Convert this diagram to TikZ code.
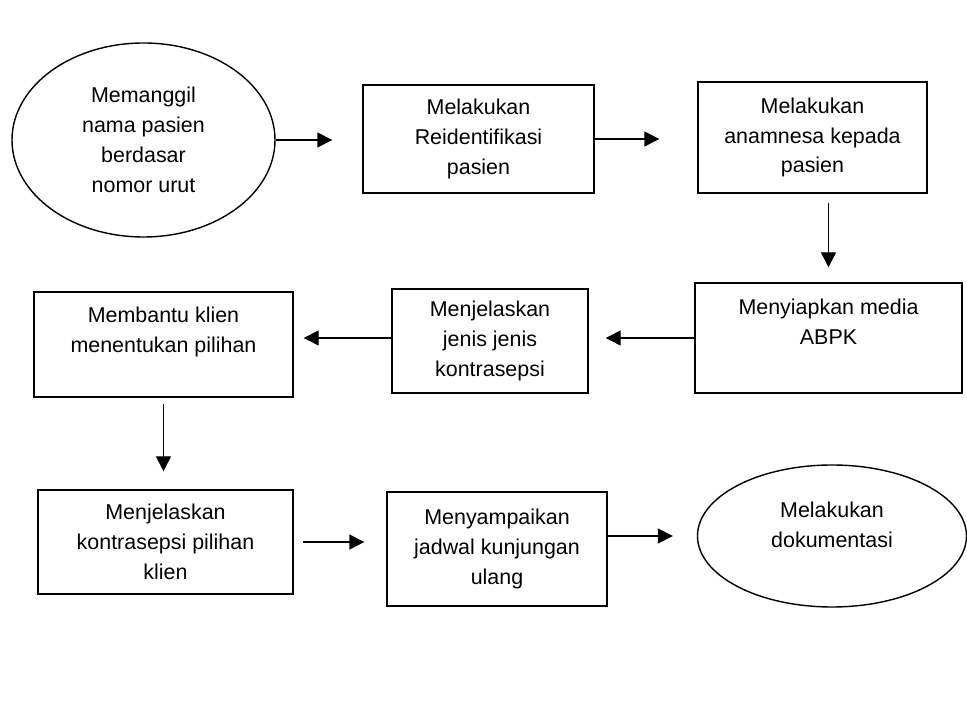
\documentclass[tikz,border=0pt]{standalone}
\usepackage{fontspec}
\setmainfont{Liberation Sans}
\usetikzlibrary{shapes.geometric,arrows.meta}

\begin{document}
\begin{tikzpicture}[line width=0.8pt, >={Triangle[length=0.3cm,width=0.3cm]},
    every node/.style={font=\fontsize{12.2}{17}\selectfont, align=center, inner sep=0pt},
    box/.style={draw, rectangle},
    oval/.style={draw, ellipse}]
\useasboundingbox (0,0) rectangle (19.34,14.26);
% Draw first row
\node[oval, minimum width=5.26cm, minimum height=3.88cm] (panggil) at (2.87,11.46) {Memanggil\\nama pasien\\berdasar\\nomor urut};
\node[box, minimum width=4.62cm, minimum height=2.16cm] (reident) at (9.57,11.48) {Melakukan\\Reidentifikasi\\pasien};
\node[box, minimum width=4.58cm, minimum height=2.22cm] (anamnesa) at (16.25,11.51) {Melakukan\\anamnesa kepada\\pasien};
% Draw second row
\node[box, minimum width=5.34cm, minimum height=2.2cm, text depth=0.64cm] (media) at (16.57,7.5) {Menyiapkan media\\ABPK};
\node[box, minimum width=3.92cm, minimum height=2.08cm] (jenis) at (9.8,7.44) {Menjelaskan\\jenis jenis\\kontrasepsi};
\node[box, minimum width=5.18cm, minimum height=2.1cm, text depth=0.58cm] (bantu) at (3.27,7.37) {Membantu klien\\menentukan pilihan};
% Draw third row
\node[box, minimum width=5.1cm, minimum height=2.08cm] (pilihan) at (3.31,3.42) {Menjelaskan\\kontrasepsi pilihan\\klien};
\node[box, minimum width=4.4cm, minimum height=2.28cm] (jadwal) at (9.94,3.28) {Menyampaikan\\jadwal kunjungan\\ulang};
\node[oval, minimum width=5.38cm, minimum height=2.84cm, text depth=0.44cm] (dokumen) at (16.64,3.54) {Melakukan\\dokumentasi};
% Draw arrows
\draw[->, shorten >=0.6cm] (panggil.east) -- (panggil.east -| reident.west);
\draw[->, shorten >=0.76cm] (reident.east) -- (reident.east -| anamnesa.west);
\draw[->, shorten <=0.18cm, shorten >=0.3cm] (anamnesa.south -| media.north) -- (media.north);
\draw[->, shorten >=0.34cm] (media.west) -- (media.west -| jenis.east);
\draw[->, shorten >=0.2cm] (media.west -| jenis.west) -- (media.west -| bantu.east);
\draw[->, shorten <=0.12cm, shorten >=0.36cm] (bantu.south) -- (bantu.south |- pilihan.north);
\draw[->, shorten <=0.18cm, shorten >=0.44cm] (pilihan.east) -- (pilihan.east -| jadwal.west);
\draw[->, shorten >=0.48cm] (dokumen.west -| jadwal.east) -- (dokumen.west);
\end{tikzpicture}
\end{document}
